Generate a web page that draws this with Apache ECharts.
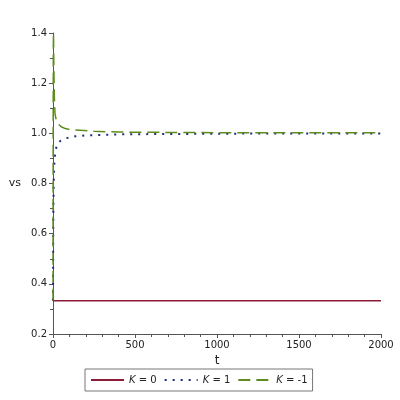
<!DOCTYPE html>
<html>
<head>
<meta charset="utf-8">
<script src="https://cdn.jsdelivr.net/npm/echarts@6/dist/echarts.min.js"></script>
<style>
  html, body { margin: 0; padding: 0; background: #fff; }
  #main { width: 400px; height: 400px; }
</style>
</head>
<body>
<div id="main"></div>
<script>
// time points (t) and the three solutions vs(t)
const tK0 = [0, 2000]
const vsK0 = [0.333, 0.333]

const tK1 = [0, 1, 2, 4, 6, 10, 15, 25, 45, 75, 135, 200, 300, 400, 600, 900, 1200, 1600, 2000]
const vsK1 = [0.333, 0.55, 0.68, 0.8, 0.85, 0.9, 0.93, 0.955, 0.97, 0.98, 0.988, 0.992, 0.994, 0.996, 0.997, 0.998, 0.999, 0.999, 0.999]

const tKm1 = [0, 1, 2, 3, 5, 8, 12, 18, 25, 35, 50, 75, 100, 165, 250, 400, 600, 900, 1300, 1700, 2000]
const vsKm1 = [0.333, 1.0, 1.35, 1.4, 1.28, 1.15, 1.08, 1.058, 1.045, 1.035, 1.026, 1.019, 1.015, 1.012, 1.008, 1.005, 1.004, 1.003, 1.002, 1.002, 1.002]

const xTicks = { min: 0, max: 2000, step: 500 }
const yTicks = { min: 0.2, max: 1.4, step: 0.2 }

const pair = (xs, ys) => xs.map((x, i) => [x, ys[i]])

const font = 'DejaVu Sans'
const txt = '#222'

const chart = echarts.init(document.getElementById('main'))
chart.setOption({
  backgroundColor: '#fff',
  animation: false,
  grid: { left: 53, right: 19, top: 33, bottom: 66 },
  xAxis: {
    type: 'value',
    min: xTicks.min,
    max: xTicks.max,
    interval: xTicks.step,
    name: 't',
    nameLocation: 'middle',
    nameGap: 20,
    nameTextStyle: { color: txt, fontFamily: font, fontSize: 12 },
    axisLine: { onZero: false, lineStyle: { color: '#555', width: 1 } },
    axisTick: { length: 4, lineStyle: { color: '#555' } },
    minorTick: { show: true, splitNumber: 5, length: 3, lineStyle: { color: '#555' } },
    splitLine: { show: false },
    axisLabel: { color: txt, fontFamily: font, fontSize: 10, margin: 6, formatter: v => String(v) }
  },
  yAxis: {
    type: 'value',
    min: yTicks.min,
    max: yTicks.max,
    interval: yTicks.step,
    name: 'vs',
    nameLocation: 'middle',
    nameRotate: 0,
    nameGap: 32,
    nameTextStyle: { color: txt, fontFamily: font, fontSize: 11 },
    axisLine: { show: true, onZero: false, lineStyle: { color: '#555', width: 1 } },
    axisTick: { show: true, length: 4, lineStyle: { color: '#555' } },
    minorTick: { show: true, splitNumber: 2, length: 3, lineStyle: { color: '#555' } },
    splitLine: { show: false },
    axisLabel: {
      color: txt, fontFamily: font, fontSize: 10, margin: 6,
      formatter: v => v.toFixed(1)
    }
  },
  legend: {
    left: 85,
    top: 369,
    itemWidth: 33,
    itemHeight: 10,
    itemGap: 7,
    padding: [6, 5],
    borderColor: '#777',
    borderWidth: 1,
    itemStyle: { opacity: 0 },
    textStyle: {
      color: txt, fontFamily: font, fontSize: 10,
      rich: { i: { fontStyle: 'italic', fontFamily: font, fontSize: 10, color: txt } }
    },
    formatter: name => '{i|K} = ' + name.replace('K=', ''),
    data: ['K=0', 'K=1', 'K=-1']
  },
  series: [
    {
      name: 'K=0', type: 'line', symbol: 'none',
      lineStyle: { color: '#8c1c35', width: 1.5 }, itemStyle: { color: '#8c1c35' },
      data: pair(tK0, vsK0)
    },
    {
      name: 'K=1', type: 'line', symbol: 'none',
      lineStyle: { color: '#1e2a7a', width: 2, type: [2, 6] }, itemStyle: { color: '#1e2a7a' },
      data: pair(tK1, vsK1)
    },
    {
      name: 'K=-1', type: 'line', symbol: 'none',
      lineStyle: { color: '#5e8c1e', width: 1.5, type: [12, 6] }, itemStyle: { color: '#5e8c1e' },
      data: pair(tKm1, vsKm1)
    }
  ]
})
</script>
</body>
</html>
